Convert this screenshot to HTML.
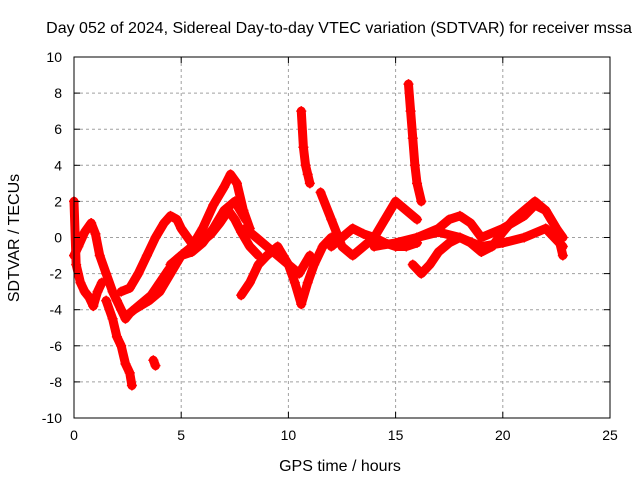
<!DOCTYPE html>
<html><head><meta charset="utf-8"><style>
body{margin:0;background:#fff}
svg{display:block;font-family:"Liberation Sans",sans-serif}
</style></head><body>
<svg id="chart" width="640" height="480">
<rect x="0" y="0" width="640" height="480" fill="#fff"/>
<text x="339" y="33" font-size="16" text-anchor="middle">Day 052 of 2024, Sidereal Day-to-day VTEC variation (SDTVAR) for receiver mssa</text>
<text x="340" y="471" font-size="16" text-anchor="middle">GPS time / hours</text>
<text x="19" y="238" font-size="16" text-anchor="middle" transform="rotate(-90 19 238)">SDTVAR / TECUs</text>
<g id="grid"></g><g id="marks"></g><g id="axes"></g>
</svg>
<script>
const xTicks=[0,5,10,15,20,25];
const yTicks=[-10,-8,-6,-4,-2,0,2,4,6,8,10];
const arc1T=[0,0.2,0.5,0.8,1.0,1.2,1.5,1.8,2.0,2.2,2.4,2.6,2.8,3.0,3.3,3.6,4.0,4.4,4.8,5.2,5.6,6.0,6.4,6.8,7.2,7.5,7.8,8.2,8.6];
const arc1V=[-1,-0.5,0.3,0.8,0.2,-1,-2,-3,-3.5,-4,-4.5,-4.2,-4,-3.8,-3.5,-3.2,-2.5,-1.8,-1.2,-0.8,-0.5,-0.2,0.2,0.8,1.5,1,0.3,-0.5,-1];
const arc2T=[1.5,1.8,2.0,2.2,2.4,2.6,2.7];
const arc2V=[-3.5,-4.5,-5.5,-6,-7,-7.5,-8.2];
const arc3T=[0,0.1,0.3,0.5,0.7,0.9,1.1,1.3];
const arc3V=[2,-1.5,-2.5,-3,-3.3,-3.8,-3,-2.5];
const arc4T=[2.2,2.6,3,3.4,3.8,4.2,4.5,4.8,5.0,5.3,5.6];
const arc4V=[-3,-2.8,-2,-1,0,0.8,1.2,1,0.5,0,-0.5];
const arc5T=[4.5,5,5.5,6,6.5,7,7.3,7.6,7.9,8.2];
const arc5V=[-1.5,-1,-0.5,0.5,1.8,2.8,3.5,3,1.5,0.5];
const arc6T=[2.8,3.5,4,5,5.5,6,6.5,7,7.5,8];
const arc6V=[-4,-3.5,-3,-1,-0.8,-0.3,0.5,1.5,2,1];
const arc7T=[7.8,8.2,8.6,9,9.5,10,10.3,10.6,10.9,11.2,11.6,12];
const arc7V=[-3.2,-2.5,-1.5,-1,-0.5,-1.5,-2.5,-3.7,-2.5,-1.5,-0.5,0];
const arc8T=[8,8.5,9,9.5,10,10.5,11];
const arc8V=[0.5,0,-0.5,-1,-1.5,-2,-1];
const spike1T=[10.6,10.7,10.8,10.9,11.0];
const spike1V=[7,5,4,3.5,3];
const arc9T=[11.5,12,12.5,13,13.5,14,14.5,15,15.5,16];
const arc9V=[2.5,1,-0.5,-1,-0.5,0,1,2,1.5,1];
const arc10T=[12,12.5,13,13.5,14,14.5,15,15.5,16];
const arc10V=[-0.5,0,0.5,0.2,0,-0.3,-0.5,-0.5,-0.3];
const spike2T=[15.6,15.7,15.8,15.9,16.0,16.2];
const spike2V=[8.5,7,5.5,4,3,2];
const arc11T=[15.8,16.2,16.6,17,17.5,18,18.5,19,19.5,20,20.5,21,21.5,22,22.5,22.8];
const arc11V=[-1.5,-2,-1.5,-0.8,-0.3,0,-0.3,-0.8,-0.5,0.3,1,1.5,2,1.5,0.5,0];
const arc12T=[16,17,17.5,18,18.5,19,20,21,21.5,22,22.5,22.8];
const arc12V=[0,0.5,1,1.2,0.8,0,0.5,1.2,1.8,1.5,0.5,-1];
const arc13T=[14,15,16,17,18,19,20,21,22,22.8];
const arc13V=[-0.5,-0.3,0,0.3,0,-0.5,-0.3,0,0.5,-0.5];
const arc14T=[3.7,3.8];
const arc14V=[-6.8,-7.1];
const series=[[arc1T,arc1V],[arc2T,arc2V],[arc3T,arc3V],[arc4T,arc4V],[arc5T,arc5V],[arc6T,arc6V],[arc7T,arc7V],[arc8T,arc8V],[spike1T,spike1V],[arc9T,arc9V],[arc10T,arc10V],[spike2T,spike2V],[arc11T,arc11V],[arc12T,arc12V],[arc13T,arc13V],[arc14T,arc14V]];
const L=74,R=610,T=57,B=418;
const xs=v=>L+(v-0)/25*(R-L);
const ys=v=>B-(v+10)/20*(B-T);
const NS="http://www.w3.org/2000/svg";
function mk(tag,attrs,parent){const e=document.createElementNS(NS,tag);for(const k in attrs)e.setAttribute(k,attrs[k]);parent.appendChild(e);return e;}
const grid=document.getElementById('grid'),axes=document.getElementById('axes'),marks=document.getElementById('marks');
xTicks.forEach(t=>{
 if(t>0&&t<25){const g=mk('line',{x1:xs(t),x2:xs(t),y1:T,y2:B,stroke:'#a0a0a0','stroke-dasharray':'3,3'},grid);
 
 }
 mk('line',{x1:xs(t),x2:xs(t),y1:B,y2:B-6,stroke:'#000'},axes);
 mk('line',{x1:xs(t),x2:xs(t),y1:T,y2:T+6,stroke:'#000'},axes);
 const tx=mk('text',{x:xs(t),y:B+22,'font-size':14,'text-anchor':'middle'},axes);tx.textContent=t;
 
 
});
yTicks.forEach(t=>{
 if(t>-10&&t<10){const g=mk('line',{x1:L,x2:R,y1:ys(t),y2:ys(t),stroke:'#a0a0a0','stroke-dasharray':'3,3'},grid);
 
 }
 mk('line',{x1:L,x2:L+6,y1:ys(t),y2:ys(t),stroke:'#000'},axes);
 mk('line',{x1:R,x2:R-6,y1:ys(t),y2:ys(t),stroke:'#000'},axes);
 const tx=mk('text',{x:L-12,y:ys(t)+5,'font-size':14,'text-anchor':'end'},axes);tx.textContent=t;
 
 
});
const fr=mk('rect',{x:L,y:T,width:R-L,height:B-T,fill:'none',stroke:'#000'},axes);


series.forEach(([tt,vv])=>{
 const g=mk('g',{},marks);
 
 
 mk('polyline',{points:tt.map((t,i)=>xs(t)+','+ys(vv[i])).join(' '),fill:'none',stroke:'#ff0000','stroke-width':9,'stroke-linejoin':'round','stroke-linecap':'round'},g);
 tt.forEach((t,i)=>{const x=xs(t),y=ys(vv[i]);
  mk('path',{d:`M${x-5},${y}h10M${x},${y-5}v10`,stroke:'#ff0000','stroke-width':1.5},g);});
});
</script>
</body></html>
